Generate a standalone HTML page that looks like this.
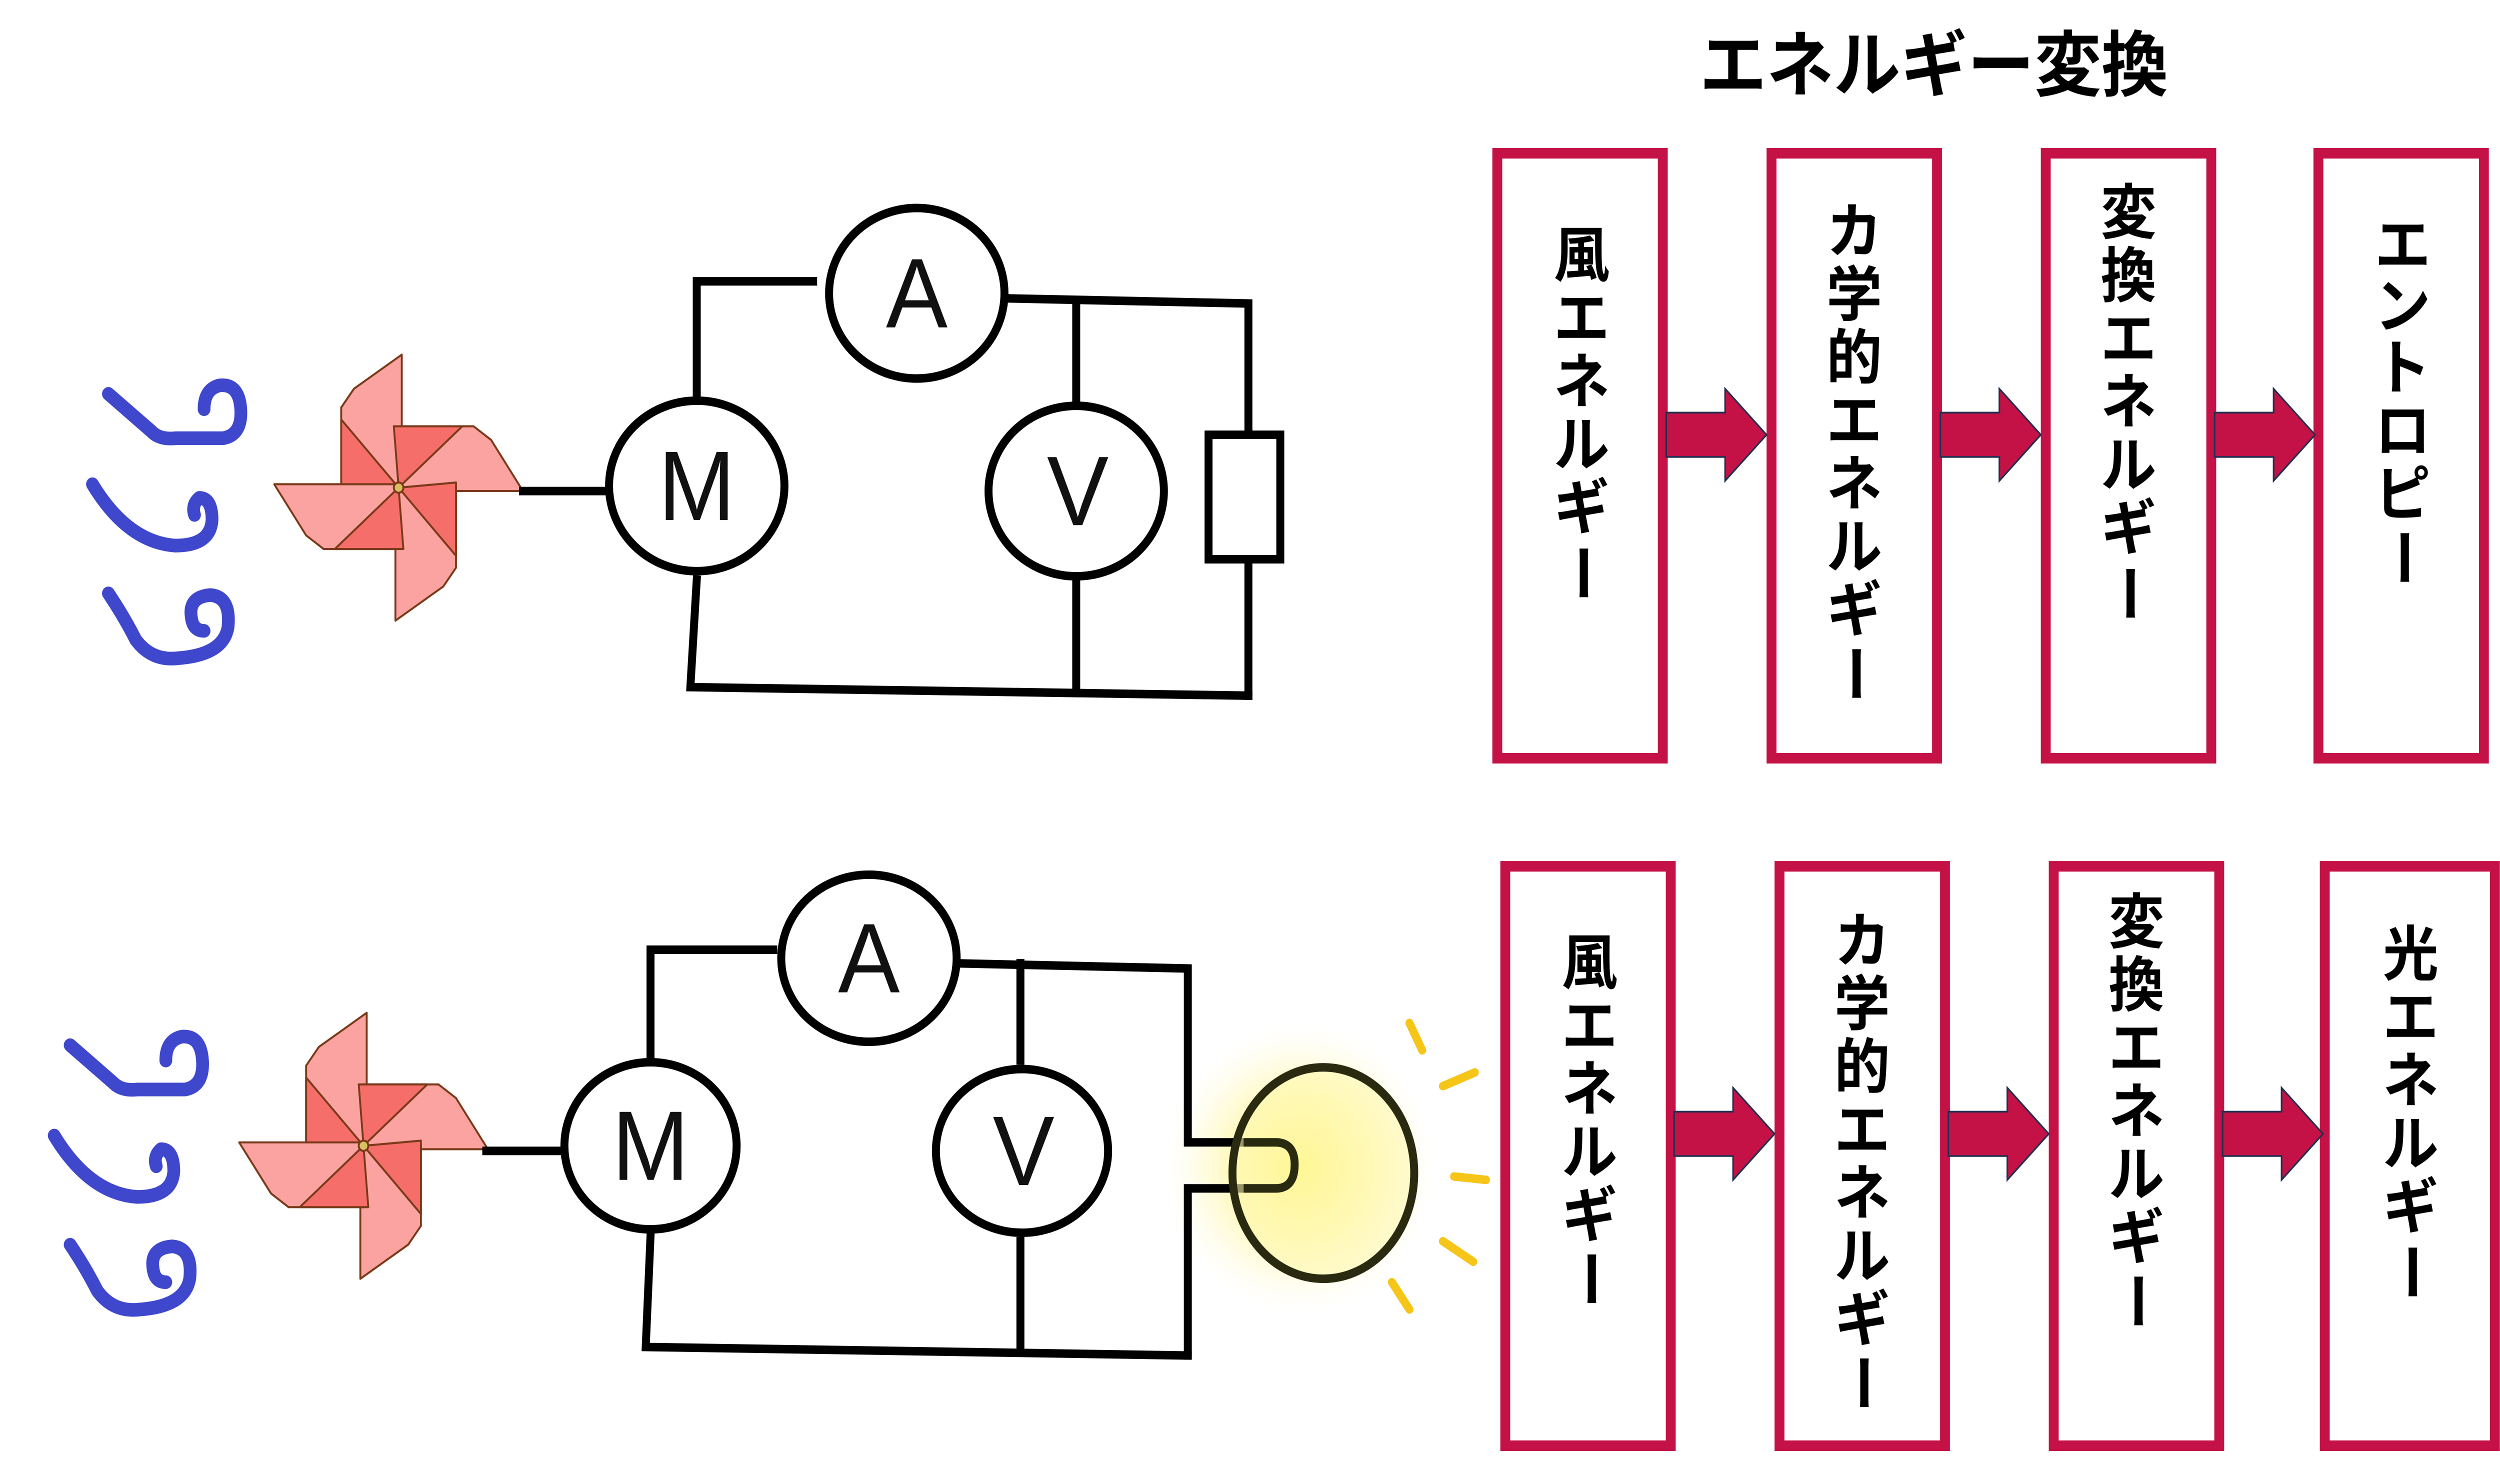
<!DOCTYPE html>
<html><head><meta charset="utf-8"><style>
html,body{margin:0;padding:0;background:#fff;width:100%;height:100%;overflow:hidden;}
svg{display:block;width:100vw;height:100vh;}
.j{font-family:"Liberation Sans","Noto Sans CJK JP",sans-serif;font-weight:bold;font-size:35px;fill:#000;text-anchor:middle;}
.l{font-family:"Liberation Sans",sans-serif;font-size:58px;fill:#111;text-anchor:middle;}
</style></head><body>
<svg viewBox="0 0 1568 870.36" preserveAspectRatio="none" xmlns="http://www.w3.org/2000/svg">
<defs>
<radialGradient id="glow" cx="0.5" cy="0.5" r="0.5">
<stop offset="0" stop-color="#fff36a" stop-opacity="1"/>
<stop offset="0.5" stop-color="#fff7a8" stop-opacity="0.8"/>
<stop offset="1" stop-color="#fffbe0" stop-opacity="0"/>
</radialGradient>
<g id="pw" stroke="#7a3a1a" stroke-width="1.2" stroke-linejoin="round">
<g id="bl"><polygon points="0,0 -36,0 -36,-47 -28,-58 2,-78 2,0" fill="#fba3a0"/><polygon points="0,0 -36,3 -36,-40" fill="#f56e6a"/></g>
<use href="#bl" transform="rotate(90)"/><use href="#bl" transform="rotate(180)"/><use href="#bl" transform="rotate(270)"/>
<circle r="3" fill="#d8c060"/>
</g>
<g id="wind" fill="none" stroke="#3f47cc" stroke-width="8" stroke-linecap="round" stroke-linejoin="round">
<path d="M68,231 L95,253 Q100,258 110,257 L140,257 Q152,255 151,240 Q150,225 138,226 Q128,228 128,240"/>
<path d="M58,284 Q80,318 110,320 Q132,320 133,305 Q133,292 125,292 Q120,296 122,302"/>
<path d="M68,348 Q78,362 85,375 Q95,388 112,386 Q140,384 143,368 Q145,350 132,349 Q118,350 120,362 Q121,370 128,370"/>
</g>
<polygon id="arr" points="0,-13 37,-13 37,-27 63,0 37,27 37,13 0,13" fill="#c41246" stroke="#1f3050" stroke-width="1"/>
</defs>

<text x="1213" y="53" class="j" style="font-size:42px">エネルギー変換</text>

<use href="#wind"/>
<use href="#pw" transform="translate(250,286)"/>
<g fill="none" stroke="#000" stroke-width="5" stroke-linecap="square">
<line x1="328" y1="288" x2="382" y2="288"/>
<polyline points="510,165 437,165 437,232"/>
<polyline points="632,175 783,178 783,255"/>
<line x1="675" y1="177" x2="675" y2="236"/>
<line x1="783" y1="330" x2="783" y2="408"/>
<polyline points="437,340 433,403 783,408"/>
<line x1="675" y1="340" x2="675" y2="405"/>
<rect x="758" y="255" width="45" height="73" fill="#fff"/>
<ellipse cx="575" cy="172" rx="55" ry="50" fill="#fff"/>
<ellipse cx="437" cy="285" rx="55" ry="50" fill="#fff"/>
<ellipse cx="675" cy="288" rx="55" ry="50" fill="#fff"/>
</g>
<text x="575" y="192" class="l">A</text>
<text x="437" y="305" class="l">M</text>
<text x="676" y="308" class="l">V</text>

<use href="#wind" transform="translate(-24,382)"/>
<use href="#pw" transform="translate(228,672)"/>
<circle cx="815" cy="685" r="85" fill="url(#glow)"/>
<g fill="none" stroke="#000" stroke-width="5" stroke-linecap="square">
<line x1="305" y1="675" x2="355" y2="675"/>
<polyline points="485,557 408,557 408,620"/>
<polyline points="600,565 745,568 745,670 800,670"/>
<polyline points="800,697 745,697 745,795"/>
<polyline points="408,725 405,790 745,795"/>
<line x1="640" y1="565" x2="640" y2="622"/>
<line x1="640" y1="728" x2="640" y2="793"/>
<ellipse cx="545" cy="562" rx="55" ry="49" fill="#fff"/>
<ellipse cx="408" cy="672" rx="54" ry="49" fill="#fff"/>
<ellipse cx="641" cy="675" rx="54" ry="48" fill="#fff"/>
</g>
<ellipse cx="830" cy="688" rx="57" ry="62" fill="#fff8b0" fill-opacity="0.6" stroke="#2a2a10" stroke-width="5"/>
<path d="M780,670 L800,670 Q812,670 812,683 Q812,697 800,697 L780,697" fill="none" stroke="#2a2a10" stroke-width="5"/>
<g stroke="#f5c518" stroke-width="5" stroke-linecap="round">
<line x1="884" y1="600" x2="892" y2="616"/>
<line x1="905" y1="637" x2="925" y2="629"/>
<line x1="912" y1="690" x2="932" y2="692"/>
<line x1="905" y1="728" x2="924" y2="740"/>
<line x1="873" y1="752" x2="884" y2="768"/>
</g>
<text x="545" y="582" class="l">A</text>
<text x="408" y="692" class="l">M</text>
<text x="642" y="695" class="l">V</text>

<g fill="#fff" stroke="#c41246" stroke-width="6.2">
<rect x="939.1" y="89.9" width="103.8" height="354.8"/>
<rect x="1111.1" y="89.9" width="103.8" height="354.8"/>
<rect x="1283.1" y="89.9" width="103.8" height="354.8"/>
<rect x="1454.1" y="89.9" width="103.8" height="354.8"/>
<rect x="944.1" y="508.1" width="103.8" height="339.8"/>
<rect x="1116.1" y="508.1" width="103.8" height="339.8"/>
<rect x="1288.1" y="508.1" width="103.8" height="339.8"/>
<rect x="1458.1" y="508.1" width="106.7" height="339.8"/>
</g>
<use href="#arr" transform="translate(1045,255)"/>
<use href="#arr" transform="translate(1217,255)"/>
<use href="#arr" transform="translate(1389,255)"/>
<use href="#arr" transform="translate(1050,665)"/>
<use href="#arr" transform="translate(1222,665)"/>
<use href="#arr" transform="translate(1394,665)"/>

<g class="j">
<text x="992" y="162">風</text><text x="992" y="199">エ</text><text x="992" y="236">ネ</text><text x="992" y="273">ル</text><text x="992" y="310">ギ</text>
<text transform="translate(992,336) rotate(90)" y="12">ー</text>

<text x="1163" y="148">カ</text><text x="1163" y="185">学</text><text x="1163" y="222">的</text><text x="1163" y="259">エ</text><text x="1163" y="296">ネ</text><text x="1163" y="333">ル</text><text x="1163" y="370">ギ</text>
<text transform="translate(1163,395) rotate(90)" y="12">ー</text>

<text x="1335" y="137">変</text><text x="1335" y="174">換</text><text x="1335" y="211">エ</text><text x="1335" y="248">ネ</text><text x="1335" y="285">ル</text><text x="1335" y="322">ギ</text>
<text transform="translate(1335,348) rotate(90)" y="12">ー</text>

<text x="1507" y="156">エ</text><text x="1507" y="192">ン</text><text x="1507" y="228">ト</text><text x="1507" y="265">ロ</text><text x="1507" y="302">ピ</text>
<text transform="translate(1507,327) rotate(90)" y="12">ー</text>
</g>

<g class="j">
<text x="997" y="577">風</text><text x="997" y="614">エ</text><text x="997" y="651">ネ</text><text x="997" y="688">ル</text><text x="997" y="725">ギ</text>
<text transform="translate(997,750) rotate(90)" y="12">ー</text>

<text x="1168" y="564">カ</text><text x="1168" y="601">学</text><text x="1168" y="638">的</text><text x="1168" y="675">エ</text><text x="1168" y="712">ネ</text><text x="1168" y="749">ル</text><text x="1168" y="786">ギ</text>
<text transform="translate(1168,811) rotate(90)" y="12">ー</text>

<text x="1340" y="553">変</text><text x="1340" y="590">換</text><text x="1340" y="627">エ</text><text x="1340" y="664">ネ</text><text x="1340" y="701">ル</text><text x="1340" y="738">ギ</text>
<text transform="translate(1340,763) rotate(90)" y="12">ー</text>

<text x="1512" y="572">光</text><text x="1512" y="609">エ</text><text x="1512" y="646">ネ</text><text x="1512" y="683">ル</text><text x="1512" y="720">ギ</text>
<text transform="translate(1512,746) rotate(90)" y="12">ー</text>
</g>
</svg>
</body></html>
